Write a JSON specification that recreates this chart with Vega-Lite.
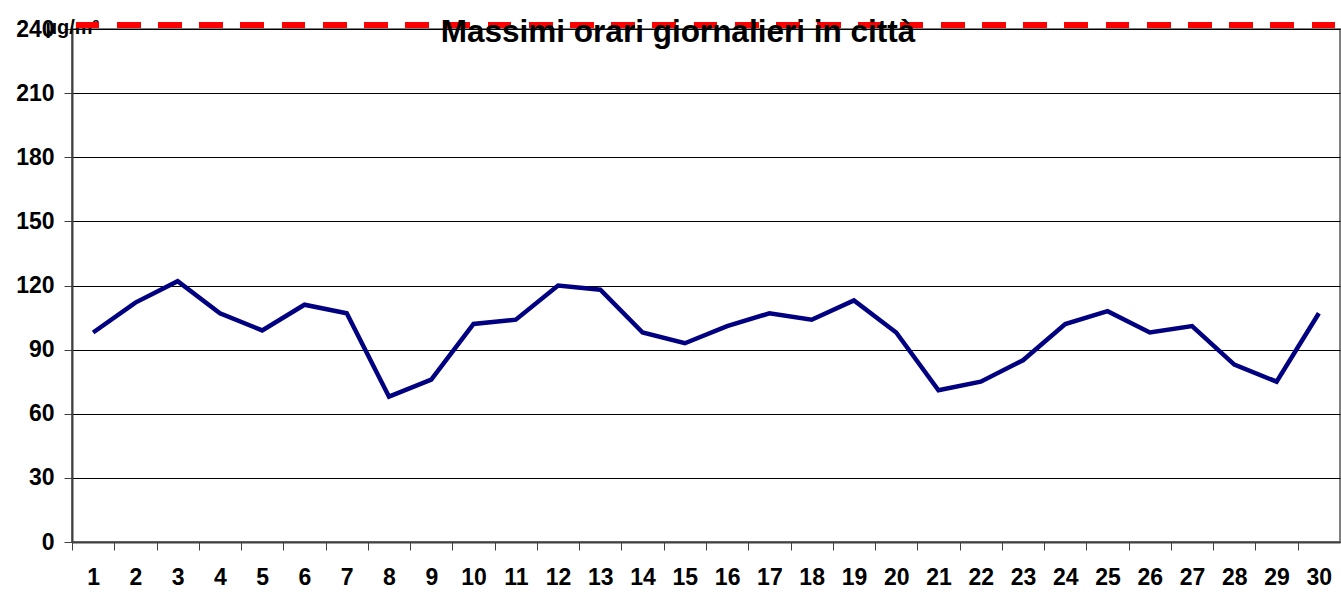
{
  "$schema": "https://vega.github.io/schema/vega-lite/v6.json",
  "autosize": "none",
  "width": 1268,
  "height": 513,
  "padding": {"left": 72, "top": 29, "right": 1, "bottom": 59},
  "background": "white",
  "title": {
    "text": "Massimi orari giornalieri in città",
    "font": "Liberation Sans",
    "fontSize": 31.5,
    "fontWeight": "bold",
    "color": "black",
    "anchor": "middle",
    "frame": "group",
    "baseline": "alphabetic",
    "offset": 0,
    "dx": -28,
    "dy": 56
  },
  "config": {
    "view": {"stroke": "#808080", "strokeWidth": 2},
    "axis": {
      "labelFont": "Liberation Sans",
      "labelFontSize": 23,
      "labelFontWeight": "bold",
      "labelColor": "black",
      "titleFont": "Liberation Sans",
      "domainColor": "#404040",
      "domainWidth": 2,
      "tickColor": "#404040",
      "tickSize": 8,
      "tickWidth": 1
    }
  },
  "data": {
    "values": [
      {"giorno": 1, "valore": 98},
      {"giorno": 2, "valore": 112},
      {"giorno": 3, "valore": 122},
      {"giorno": 4, "valore": 107},
      {"giorno": 5, "valore": 99},
      {"giorno": 6, "valore": 111},
      {"giorno": 7, "valore": 107},
      {"giorno": 8, "valore": 68},
      {"giorno": 9, "valore": 76},
      {"giorno": 10, "valore": 102},
      {"giorno": 11, "valore": 104},
      {"giorno": 12, "valore": 120},
      {"giorno": 13, "valore": 118},
      {"giorno": 14, "valore": 98},
      {"giorno": 15, "valore": 93},
      {"giorno": 16, "valore": 101},
      {"giorno": 17, "valore": 107},
      {"giorno": 18, "valore": 104},
      {"giorno": 19, "valore": 113},
      {"giorno": 20, "valore": 98},
      {"giorno": 21, "valore": 71},
      {"giorno": 22, "valore": 75},
      {"giorno": 23, "valore": 85},
      {"giorno": 24, "valore": 102},
      {"giorno": 25, "valore": 108},
      {"giorno": 26, "valore": 98},
      {"giorno": 27, "valore": 101},
      {"giorno": 28, "valore": 83},
      {"giorno": 29, "valore": 75},
      {"giorno": 30, "valore": 107}
    ]
  },
  "layer": [
    {
      "mark": {"type": "line", "color": "#000080", "strokeWidth": 4.5, "strokeJoin": "miter"},
      "encoding": {
        "x": {
          "field": "giorno",
          "type": "ordinal",
          "sort": null,
          "scale": {"type": "band", "paddingInner": 0, "paddingOuter": 0},
          "axis": {
            "title": null,
            "labelAngle": 0,
            "grid": false,
            "tickOffset": -21.13,
            "labelOffset": 21.13,
            "labelPadding": 16
          }
        },
        "y": {
          "field": "valore",
          "type": "quantitative",
          "scale": {"domain": [0, 240], "nice": false, "zero": true},
          "axis": {
            "values": [0, 30, 60, 90, 120, 150, 180, 210, 240],
            "grid": true,
            "gridColor": "black",
            "gridWidth": 1,
            "gridOpacity": 1,
            "labelPadding": 10,
            "title": "µg/m³",
            "titleAngle": 0,
            "titleAlign": "left",
            "titleBaseline": "alphabetic",
            "titleX": -27,
            "titleY": 4,
            "titleFontSize": 20,
            "titleFontWeight": "bold",
            "titleColor": "black"
          }
        }
      }
    },
    {
      "mark": {
        "type": "rule",
        "color": "#FF0000",
        "strokeWidth": 6,
        "strokeDash": [23, 18.2],
        "strokeDashOffset": -5,
        "yOffset": -4
      },
      "encoding": {"y": {"datum": 240}}
    }
  ]
}
